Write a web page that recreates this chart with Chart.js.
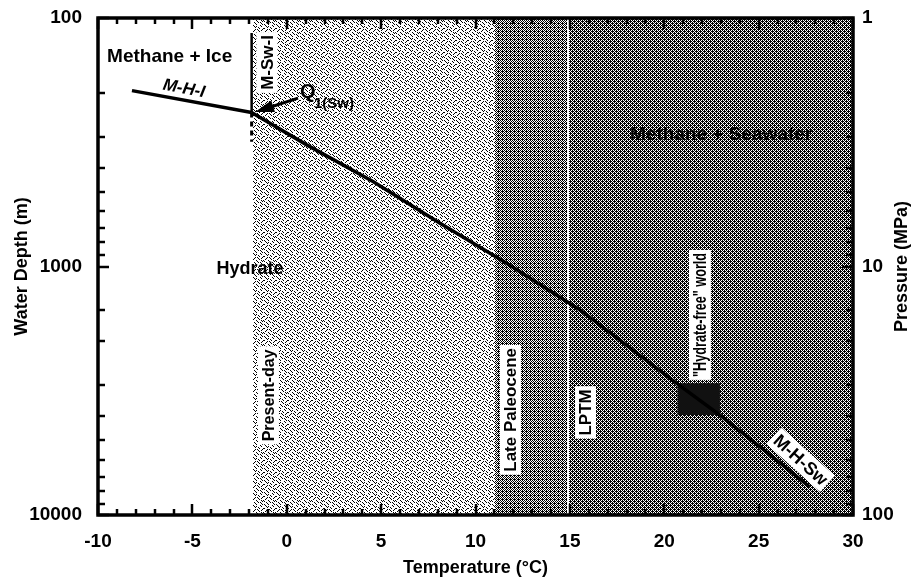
<!DOCTYPE html>
<html>
<head>
<meta charset="utf-8">
<script src="https://cdn.jsdelivr.net/npm/chart.js@4.4.1/dist/chart.umd.min.js"></script>
<style>
    html, body { margin: 0; padding: 0; background: #fff; }
</style>
</head>
<body>
<canvas id="grafico" width="915" height="580"></canvas>
<script>
// Datos
const temp_mhi = [-8.2, -1.86]
const prof_mhi = [196, 240]
const temp_mhsw = [-1.86, 1.06, 4.59, 8.12, 11.65, 15.54, 20.66, 22.95, 25.51, 27.7]
const prof_mhsw = [240, 324, 456, 670, 970, 1496, 2952, 3963, 5650, 7700]
const temp_mswi = [-1.86, -1.86]
const prof_mswi = [115, 240]
const prof_mswi_dash = [240, 315]
const banda_actual = [-1.8, 11.05]
const banda_paleoceno = [11.05, 14.9]
const banda_lptm = [14.9, 30]
const caja_temp = [20.7, 22.95]
const caja_prof = [2950, 3960]
const ticks_temp = [-10, -5, 0, 5, 10, 15, 20, 25, 30]
const ticks_prof = [100, 1000, 10000]
const ticks_presion = [1, 10, 100]

const FUENTE = "'Liberation Sans', Arial, sans-serif"
Chart.defaults.font.family = FUENTE
Chart.defaults.color = '#000'

const etiquetas = [
    { texto: 'Methane + Ice', t: -9.52, d: 142, angulo: 0, tam: 19, ancho: 131, alinear: 'left' },
    { texto: 'M-H-I', t: -5.44, d: 191, angulo: 10.4, tam: 17, ancho: 48, italica: true },
    { texto: 'M-Sw-I', t: -1.05, d: 151, angulo: -90, tam: 17, ancho: 61, fondo: true },
    { texto: 'Q', t: 0.70, d: 197.6, angulo: 0, tam: 20, alinear: 'left' },
    { texto: '1(Sw)', t: 1.44, d: 219.8, angulo: 0, tam: 15, ancho: 44, alinear: 'left' },
    { texto: 'Methane + Seawater', t: 18.19, d: 291.5, angulo: 0, tam: 19, ancho: 195, alinear: 'left' },
    { texto: 'Hydrate', t: -1.95, d: 1014, angulo: 0, tam: 18, ancho: 71 },
    { texto: 'Present-day', t: -0.97, d: 3300, angulo: -90, tam: 17, ancho: 92, fondo: true },
    { texto: 'Late Paleocene', t: 11.85, d: 3774, angulo: -90, tam: 17, ancho: 130, fondo: true },
    { texto: 'LPTM', t: 15.83, d: 3864, angulo: -90, tam: 17, ancho: 49, fondo: true },
    { texto: '"Hydrate-free" world', t: 21.89, d: 1566, angulo: -90, tam: 18, ancho: 124, fondo: true },
    { texto: 'M-H-Sw', t: 27.23, d: 5996, angulo: 42, tam: 18, ancho: 74, fondo: true }
]
const flecha = { desde: [0.6, 210], hasta: [-1.68, 239] }

function puntos(xs, ys) {
    return xs.map((v, i) => ({ x: v, y: ys[i] }))
}

function es_potencia(v) {
    const l = Math.log10(v)
    return Math.abs(l - Math.round(l)) < 1e-6
}

function crear_patron(ctx, filas) {
    const c = document.createElement('canvas')
    c.width = filas[0].length
    c.height = filas.length
    const cx = c.getContext('2d')
    cx.fillStyle = '#fff'
    cx.fillRect(0, 0, c.width, c.height)
    cx.fillStyle = '#000'
    filas.forEach((f, j) => {
        for (let i = 0; i < f.length; i++) {
            if (f[i] === '1') cx.fillRect(i, j, 1, 1)
        }
    })
    return ctx.createPattern(c, 'repeat')
}

function dibujar_texto(ctx, e, px, py) {
    ctx.save()
    ctx.translate(px, py)
    ctx.rotate(e.angulo * Math.PI / 180)
    ctx.font = (e.italica ? 'italic ' : '') + 'bold ' + e.tam + 'px ' + FUENTE
    ctx.textBaseline = 'middle'
    const alinear = e.alinear || 'center'
    ctx.textAlign = alinear
    let w = ctx.measureText(e.texto).width
    if (e.ancho) w = Math.min(w, e.ancho)
    if (e.fondo) {
        ctx.fillStyle = '#fff'
        const x0 = alinear === 'left' ? -3 : -w / 2 - 3
        ctx.fillRect(x0, -e.tam / 2 - 2, w + 6, e.tam + 4)
    }
    ctx.fillStyle = '#000'
    if (e.ancho) {
        ctx.fillText(e.texto, 0, 1, e.ancho)
    } else {
        ctx.fillText(e.texto, 0, 1)
    }
    ctx.restore()
}

const fondo = {
    id: 'fondo',
    beforeDatasetsDraw(chart) {
        const { ctx, chartArea: a, scales: { x, y } } = chart
        const p_actual = crear_patron(ctx, [
            '100010000010', '010000001000', '001010000100', '000100100000',
            '100000010001', '000101000010', '001000100100', '010000010000',
            '000010000101', '100001000010', '001000101000', '000100000100'
        ])
        const p_paleoceno = crear_patron(ctx, ['1010', '0101', '1010', '0111'])
        const p_lptm = crear_patron(ctx, ['1010', '0111', '1010', '1101'])
        ctx.save()
        ctx.beginPath()
        ctx.rect(a.left, a.top, a.right - a.left, a.bottom - a.top)
        ctx.clip()
        const banda = (b, patron) => {
            const x0 = Math.round(x.getPixelForValue(b[0]))
            const x1 = Math.round(x.getPixelForValue(b[1]))
            ctx.fillStyle = patron
            ctx.fillRect(x0, a.top, x1 - x0, a.bottom - a.top)
        }
        banda(banda_actual, p_actual)
        banda(banda_paleoceno, p_paleoceno)
        banda(banda_lptm, p_lptm)
        // linea blanca del LPTM
        const xl = Math.round(x.getPixelForValue(banda_lptm[0]))
        ctx.fillStyle = '#fff'
        ctx.fillRect(xl - 1, a.top, 2, a.bottom - a.top)
        // caja oscura
        const cx0 = x.getPixelForValue(caja_temp[0])
        const cx1 = x.getPixelForValue(caja_temp[1])
        const cy0 = y.getPixelForValue(caja_prof[0])
        const cy1 = y.getPixelForValue(caja_prof[1])
        ctx.fillStyle = '#111'
        ctx.fillRect(cx0, cy0, cx1 - cx0, cy1 - cy0)
        ctx.restore()
    },
    afterDatasetsDraw(chart) {
        const { ctx, chartArea: a, scales: { x, y, y2 } } = chart
        ctx.save()
        // flecha Q1(Sw)
        const fx0 = x.getPixelForValue(flecha.desde[0]), fy0 = y.getPixelForValue(flecha.desde[1])
        const fx1 = x.getPixelForValue(flecha.hasta[0]), fy1 = y.getPixelForValue(flecha.hasta[1])
        const ang = Math.atan2(fy1 - fy0, fx1 - fx0)
        ctx.strokeStyle = '#000'
        ctx.lineWidth = 3
        ctx.beginPath()
        ctx.moveTo(fx0, fy0)
        ctx.lineTo(fx1 - 14 * Math.cos(ang), fy1 - 14 * Math.sin(ang))
        ctx.stroke()
        ctx.fillStyle = '#000'
        ctx.beginPath()
        ctx.moveTo(fx1, fy1)
        ctx.lineTo(fx1 - 19 * Math.cos(ang) + 6 * Math.sin(ang), fy1 - 19 * Math.sin(ang) - 6 * Math.cos(ang))
        ctx.lineTo(fx1 - 19 * Math.cos(ang) - 6 * Math.sin(ang), fy1 - 19 * Math.sin(ang) + 6 * Math.cos(ang))
        ctx.closePath()
        ctx.fill()

        etiquetas.forEach(e => dibujar_texto(ctx, e, x.getPixelForValue(e.t), y.getPixelForValue(e.d)))

        // marcas hacia adentro
        ctx.lineWidth = 2.5
        const linea = (x0, y0, x1, y1) => {
            ctx.beginPath(); ctx.moveTo(x0, y0); ctx.lineTo(x1, y1); ctx.stroke()
        }
        x.ticks.forEach(t => {
            const px = Math.round(x.getPixelForValue(t.value))
            const largo = ticks_temp.includes(t.value) ? 11 : 6
            linea(px, a.bottom, px, a.bottom - largo)
            linea(px, a.top, px, a.top + largo)
        })
        y.ticks.forEach(t => {
            const py = Math.round(y.getPixelForValue(t.value))
            linea(a.left, py, a.left + (es_potencia(t.value) ? 11 : 7), py)
        })
        y2.ticks.forEach(t => {
            const py = Math.round(y2.getPixelForValue(t.value))
            linea(a.right, py, a.right - (es_potencia(t.value) ? 11 : 7), py)
        })
        ctx.lineWidth = 3.5
        ctx.strokeRect(a.left, a.top, a.right - a.left, a.bottom - a.top)

        // titulo del eje derecho (se lee de abajo hacia arriba)
        ctx.translate(902, (a.top + a.bottom) / 2)
        ctx.rotate(-Math.PI / 2)
        ctx.font = 'bold 18px ' + FUENTE
        ctx.textAlign = 'center'
        ctx.textBaseline = 'middle'
        ctx.fillText('Pressure (MPa)', 0, 0)
        ctx.restore()
    }
}

const fuente_ticks = { size: 19, weight: 'bold' }
const fuente_titulo = { size: 18, weight: 'bold' }

const config = {
    type: 'scatter',
    data: {
        datasets: [
            { label: 'M-H-I', data: puntos(temp_mhi, prof_mhi), showLine: true, borderColor: '#000', borderWidth: 3.5, pointRadius: 0 },
            { label: 'M-H-Sw', data: puntos(temp_mhsw, prof_mhsw), showLine: true, borderColor: '#000', borderWidth: 3.5, pointRadius: 0 },
            { label: 'M-Sw-I', data: puntos(temp_mswi, prof_mswi), showLine: true, borderColor: '#000', borderWidth: 2.5, pointRadius: 0 },
            { label: 'M-Sw-I (extrapolado)', data: puntos(temp_mswi, prof_mswi_dash), showLine: true, borderColor: '#000', borderWidth: 3, borderDash: [5, 4], pointRadius: 0 }
        ]
    },
    options: {
        responsive: false,
        animation: false,
        layout: { padding: { top: 18, left: 0, right: 0, bottom: 0 } },
        plugins: { legend: { display: false }, tooltip: { enabled: false } },
        scales: {
            x: {
                type: 'linear', min: -10, max: 30, position: 'bottom',
                grid: { display: false, drawTicks: false }, border: { display: false },
                ticks: {
                    stepSize: 1, autoSkip: false, maxRotation: 0, padding: 15, font: fuente_ticks, color: '#000',
                    callback: v => ticks_temp.includes(v) ? String(v) : ''
                },
                title: { display: true, text: 'Temperature (°C)', font: fuente_titulo, color: '#000', padding: { top: 0, bottom: 1 } },
                afterFit: s => { s.height = 65 }
            },
            y: {
                type: 'logarithmic', min: 100, max: 10000, reverse: true, position: 'left',
                grid: { display: false, drawTicks: true, tickLength: 10 }, border: { display: false },
                ticks: {
                    autoSkip: false, padding: 6, font: fuente_ticks, color: '#000',
                    callback: v => ticks_prof.some(t => Math.abs(t - v) / t < 1e-6) ? String(v) : ''
                },
                title: { display: true, text: 'Water Depth (m)', font: fuente_titulo, color: '#000', padding: { top: 11, bottom: 0 } },
                afterFit: s => { s.width = 98 }
            },
            y2: {
                type: 'logarithmic', min: 1, max: 100, reverse: true, position: 'right',
                grid: { display: false, drawTicks: true, tickLength: 4 }, border: { display: false },
                ticks: {
                    autoSkip: false, padding: 5, font: fuente_ticks, color: '#000',
                    callback: v => ticks_presion.some(t => Math.abs(t - v) / t < 1e-6) ? String(v) : ''
                },
                afterFit: s => { s.width = 62 }
            }
        }
    },
    plugins: [fondo]
}

const grafico = new Chart(document.getElementById('grafico'), config)
</script>
</body>
</html>
